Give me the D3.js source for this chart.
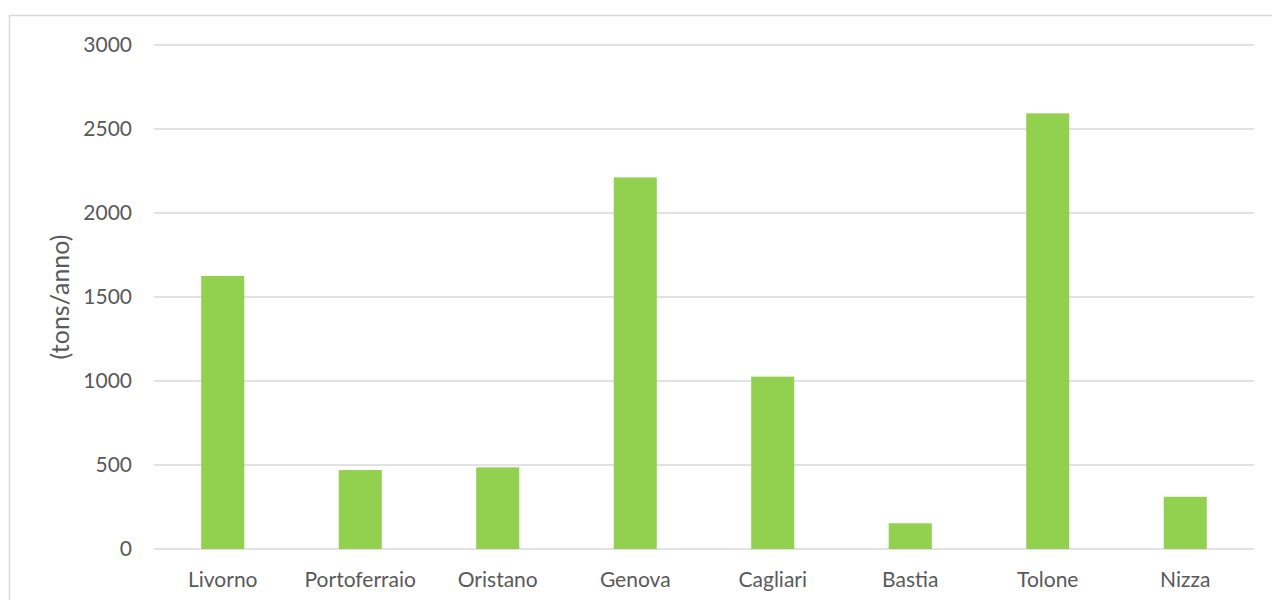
<!DOCTYPE html>
<html>
<head>
<meta charset="utf-8">
<script src="https://cdn.jsdelivr.net/npm/d3@7"></script>
<style>
  html, body { margin: 0; padding: 0; background: #fff; }
  svg { display: block; }
</style>
</head>
<body>
<svg id="chart" width="1272" height="600"></svg>
<script>
// Ports and yearly tonnage
const categories = ["Livorno", "Portoferraio", "Oristano", "Genova", "Cagliari", "Bastia", "Tolone", "Nizza"];
const values = [1625, 470, 486, 2212, 1026, 153, 2593, 311];
const yTicks = [0, 500, 1000, 1500, 2000, 2500, 3000];
const yLabel = "(tons/anno)";

const svg = d3.select("#chart");
const font = "Lato, 'Open Sans', sans-serif";
const textColor = "#595959";

// chart frame
svg.append("rect")
  .attr("x", 9.5).attr("y", 15.5)
  .attr("width", 1300).attr("height", 700)
  .attr("fill", "#fff")
  .attr("stroke", "#d9d9d9")
  .attr("stroke-width", 1.5);

const plot = { left: 154, right: 1254, top: 45, bottom: 549 };

const x = d3.scaleBand()
  .domain(categories)
  .range([plot.left, plot.right])
  .paddingInner(0.687)
  .paddingOuter(0.3435);

const y = d3.scaleLinear()
  .domain([0, 3000])
  .range([plot.bottom, plot.top]);

// gridlines
svg.append("g")
  .selectAll("line")
  .data(yTicks)
  .join("line")
  .attr("x1", plot.left).attr("x2", plot.right)
  .attr("y1", d => y(d)).attr("y2", d => y(d))
  .attr("stroke", "#d9d9d9")
  .attr("stroke-width", 1.5);

// y axis labels
const yAxis = d3.axisLeft(y).tickValues(yTicks).tickFormat(d3.format("d")).tickSize(0).tickPadding(0);
svg.append("g")
  .attr("transform", `translate(${plot.left - 22},0)`)
  .call(yAxis)
  .call(g => g.select(".domain").remove())
  .selectAll("text")
  .attr("fill", textColor)
  .style("font-family", font)
  .style("font-size", "21px");

// bars
svg.append("g")
  .selectAll("rect")
  .data(categories)
  .join("rect")
  .attr("x", d => x(d))
  .attr("width", x.bandwidth())
  .attr("y", (d, i) => y(values[i]))
  .attr("height", (d, i) => y(0) - y(values[i]))
  .attr("fill", "#92d050");

// x axis labels
const xAxis = d3.axisBottom(x).tickSize(0).tickPadding(0);
svg.append("g")
  .attr("transform", `translate(0,${plot.bottom + 23})`)
  .call(xAxis)
  .call(g => g.select(".domain").remove())
  .selectAll("text")
  .attr("dy", "0.71em")
  .attr("fill", textColor)
  .style("font-family", font)
  .style("font-size", "21px");

// y axis title
svg.append("text")
  .attr("transform", `translate(69,${(plot.top + plot.bottom) / 2}) rotate(-90)`)
  .attr("text-anchor", "middle")
  .attr("fill", textColor)
  .style("font-family", font)
  .style("font-size", "25px")
  .text(yLabel);
</script>
</body>
</html>
